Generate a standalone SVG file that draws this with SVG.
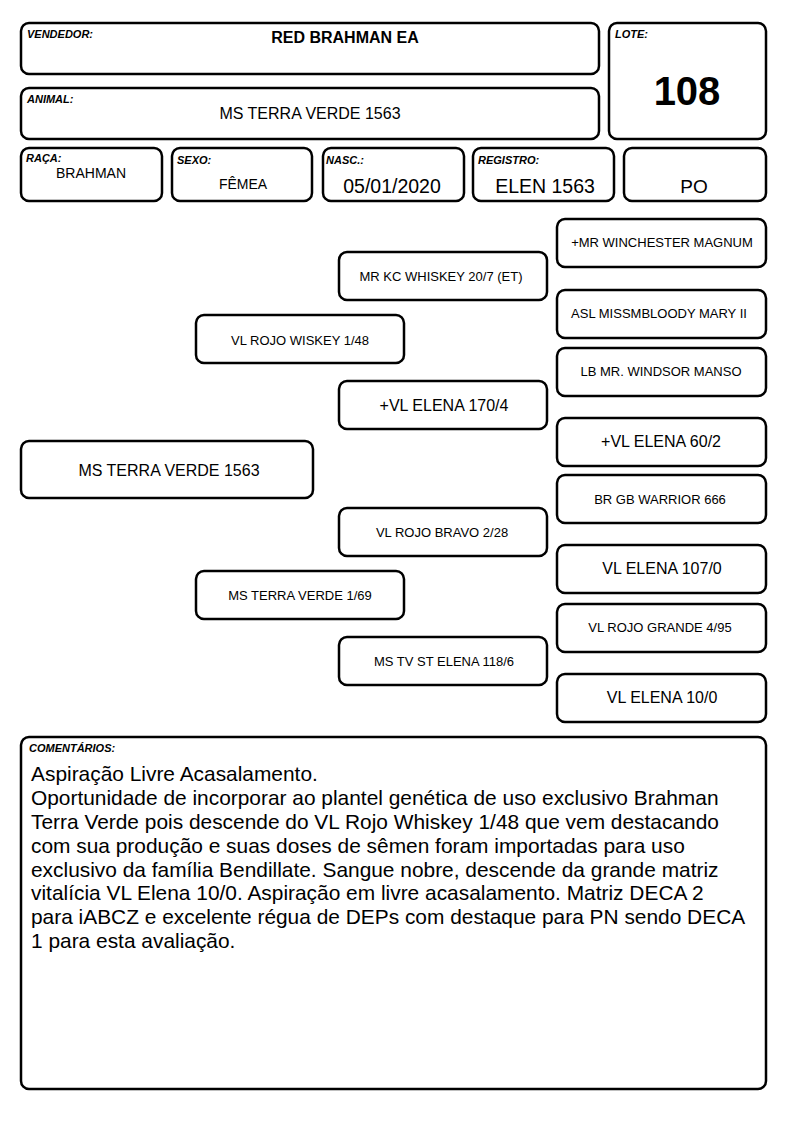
<svg xmlns="http://www.w3.org/2000/svg" width="794" height="1123" viewBox="0 0 794 1123">
<style>
.b{fill:#fff;stroke:#000;stroke-width:2.5}
.lbl{font-family:"Liberation Sans",Arial,sans-serif;font-size:11px;font-weight:bold;font-style:italic;fill:#000}
.v{font-family:"Liberation Sans",Arial,sans-serif;fill:#000;text-anchor:middle}
.s{font-size:13px}
.m{font-size:16px}
.c{font-family:"Liberation Sans",Arial,sans-serif;font-size:20.9px;fill:#000}
</style>
<rect width="794" height="1123" fill="#fff"/>
<g id="vendedor"><rect class="b" x="21" y="23" width="578" height="51" rx="8"/><text class="lbl" x="27" y="38">VENDEDOR:</text><text class="v" x="345" y="43" font-size="16" font-weight="bold">RED BRAHMAN EA</text></g>
<g id="animal"><rect class="b" x="21" y="88" width="578" height="51" rx="8"/><text class="lbl" x="27" y="103">ANIMAL:</text><text class="v m" x="310" y="119">MS TERRA VERDE 1563</text></g>
<g id="lote"><rect class="b" x="609" y="23" width="157" height="116" rx="8"/><text class="lbl" x="615" y="38">LOTE:</text><text class="v" x="687" y="105" font-size="40" font-weight="bold">108</text></g>
<g id="raca"><rect class="b" x="21" y="148" width="141" height="53" rx="8"/><text class="lbl" x="26" y="162">RAÇA:</text><text class="v" x="91" y="178" font-size="14">BRAHMAN</text></g>
<g id="sexo"><rect class="b" x="172" y="148" width="140" height="53" rx="8"/><text class="lbl" x="177" y="164">SEXO:</text><text class="v" x="243" y="189" font-size="14">FÊMEA</text></g>
<g id="nasc"><rect class="b" x="323" y="148" width="141" height="53" rx="8"/><text class="lbl" x="326" y="164">NASC.:</text><text class="v" x="392" y="193" font-size="19.5">05/01/2020</text></g>
<g id="registro"><rect class="b" x="473" y="148" width="141" height="53" rx="8"/><text class="lbl" x="478" y="164">REGISTRO:</text><text class="v" x="545" y="193" font-size="19.5">ELEN 1563</text></g>
<g id="po"><rect class="b" x="624" y="148" width="142" height="53" rx="8"/><text class="v" x="694" y="193" font-size="19">PO</text></g>
<g id="connectors"></g>
<g id="p0"><rect class="b" x="21" y="441" width="292" height="57" rx="8"/><text class="v m" x="169" y="476">MS TERRA VERDE 1563</text></g>
<g id="p1"><rect class="b" x="196" y="315" width="208" height="48" rx="8"/><text class="v s" x="300" y="345">VL ROJO WISKEY 1/48</text></g>
<g id="p2"><rect class="b" x="196" y="571" width="208" height="48" rx="8"/><text class="v s" x="300" y="600">MS TERRA VERDE 1/69</text></g>
<g id="p3"><rect class="b" x="339" y="252" width="208" height="48" rx="8"/><text class="v s" x="441" y="281">MR KC WHISKEY 20/7 (ET)</text></g>
<g id="p4"><rect class="b" x="339" y="381" width="208" height="48" rx="8"/><text class="v m" x="444" y="411">+VL ELENA 170/4</text></g>
<g id="p5"><rect class="b" x="339" y="508" width="208" height="48" rx="8"/><text class="v s" x="442" y="537">VL ROJO BRAVO 2/28</text></g>
<g id="p6"><rect class="b" x="339" y="637" width="208" height="48" rx="8"/><text class="v s" x="444" y="666">MS TV ST ELENA 118/6</text></g>
<g id="p7"><rect class="b" x="557" y="219" width="209" height="48" rx="8"/><text class="v s" x="662" y="247">+MR WINCHESTER MAGNUM</text></g>
<g id="p8"><rect class="b" x="557" y="290" width="209" height="48" rx="8"/><text class="v s" x="659" y="318">ASL MISSMBLOODY MARY II</text></g>
<g id="p9"><rect class="b" x="557" y="348" width="209" height="48" rx="8"/><text class="v s" x="661" y="376">LB MR. WINDSOR MANSO</text></g>
<g id="p10"><rect class="b" x="557" y="418" width="209" height="48" rx="8"/><text class="v m" x="661" y="447">+VL ELENA 60/2</text></g>
<g id="p11"><rect class="b" x="557" y="475" width="209" height="48" rx="8"/><text class="v s" x="660" y="504">BR GB WARRIOR 666</text></g>
<g id="p12"><rect class="b" x="557" y="545" width="209" height="48" rx="8"/><text class="v m" x="662" y="574">VL ELENA 107/0</text></g>
<g id="p13"><rect class="b" x="557" y="604" width="209" height="48" rx="8"/><text class="v s" x="660" y="632">VL ROJO GRANDE 4/95</text></g>
<g id="p14"><rect class="b" x="557" y="674" width="209" height="48" rx="8"/><text class="v m" x="662" y="703">VL ELENA 10/0</text></g>
<g id="comentarios"><rect class="b" x="21" y="737" width="745" height="352" rx="8"/><text class="lbl" x="29" y="752">COMENTÁRIOS:</text>
<text class="c" x="31" y="781">Aspiração Livre Acasalamento.</text>
<text class="c" x="31" y="805">Oportunidade de incorporar ao plantel genética de uso exclusivo Brahman</text>
<text class="c" x="31" y="829">Terra Verde pois descende do VL Rojo Whiskey 1/48 que vem destacando</text>
<text class="c" x="31" y="853">com sua produção e suas doses de sêmen foram importadas para uso</text>
<text class="c" x="31" y="877">exclusivo da família Bendillate. Sangue nobre, descende da grande matriz</text>
<text class="c" x="31" y="900">vitalícia VL Elena 10/0. Aspiração em livre acasalamento. Matriz DECA 2</text>
<text class="c" x="31" y="924">para iABCZ e excelente régua de DEPs com destaque para PN sendo DECA</text>
<text class="c" x="31" y="948">1 para esta avaliação.</text>
</g>
</svg>
